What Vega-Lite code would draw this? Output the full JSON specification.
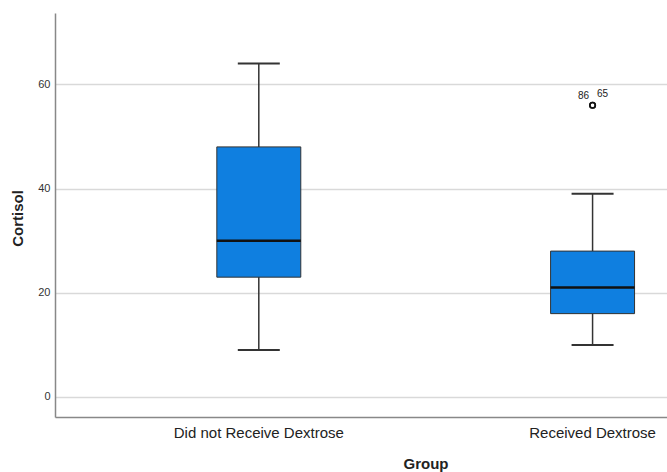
{
  "$schema": "https://vega.github.io/schema/vega-lite/v6.json",
  "width": 612,
  "height": 404,
  "autosize": {"type": "none"},
  "padding": {"left": 55, "top": 13, "right": 0, "bottom": 55},
  "background": "white",
  "config": {
    "view": {"stroke": null},
    "font": "Liberation Sans"
  },
  "datasets": {
    "stats": [
      {"group": "Did not Receive Dextrose", "lower": 9, "q1": 23, "median": 30, "q3": 48, "upper": 64},
      {"group": "Received Dextrose", "lower": 10, "q1": 16, "median": 21, "q3": 28, "upper": 39}
    ],
    "outliers": [
      {"group": "Received Dextrose", "case": "86", "cortisol": 56},
      {"group": "Received Dextrose", "case": "65", "cortisol": 56}
    ]
  },
  "encoding": {
    "x": {
      "field": "group",
      "type": "nominal",
      "sort": null,
      "scale": {"paddingInner": 0.7484, "paddingOuter": 0.291, "align": 0.833},
      "axis": {
        "title": "Group",
        "titleFont": "Liberation Sans",
        "titleFontSize": 15,
        "titleFontWeight": "bold",
        "titleColor": "#222",
        "titleX": 370.5,
        "titleY": 46,
        "titleBaseline": "middle",
        "titleAlign": "center",
        "labelAngle": 0,
        "labelFontSize": 15,
        "labelColor": "#222",
        "labelPadding": 8,
        "ticks": false,
        "domainColor": "#888",
        "domainWidth": 1.5
      }
    }
  },
  "layer": [
    {
      "data": {"name": "stats"},
      "mark": {"type": "rule", "color": "#333", "strokeWidth": 1.5},
      "encoding": {
        "y": {
          "field": "lower",
          "type": "quantitative",
          "scale": {"domain": [-3.84, 73.7], "nice": false, "zero": false},
          "axis": {
            "title": "Cortisol",
            "titleFont": "Liberation Sans",
            "titleFontSize": 15,
            "titleFontWeight": "bold",
            "titleColor": "#222",
            "titleAngle": -90,
            "titleX": -38,
            "titleY": 205,
            "titleAlign": "center",
            "titleBaseline": "middle",
            "values": [0, 20, 40, 60],
            "grid": true,
            "gridColor": "#d9d9d9",
            "gridWidth": 1.5,
            "ticks": false,
            "labelFontSize": 11,
            "labelColor": "#333",
            "labelPadding": 5,
            "domainColor": "#888",
            "domainWidth": 1.5
          }
        },
        "y2": {"field": "upper"}
      }
    },
    {
      "data": {"name": "stats"},
      "mark": {"type": "bar", "color": "#0f7fe0", "stroke": "#333", "strokeWidth": 1},
      "encoding": {
        "y": {"field": "q1", "type": "quantitative"},
        "y2": {"field": "q3"}
      }
    },
    {
      "data": {"name": "stats"},
      "mark": {"type": "tick", "color": "#111", "thickness": 2.5, "size": 84, "opacity": 1},
      "encoding": {"y": {"field": "median", "type": "quantitative"}}
    },
    {
      "data": {"name": "stats"},
      "mark": {"type": "tick", "color": "#333", "thickness": 2, "size": 42, "opacity": 1},
      "encoding": {"y": {"field": "lower", "type": "quantitative"}}
    },
    {
      "data": {"name": "stats"},
      "mark": {"type": "tick", "color": "#333", "thickness": 2, "size": 42, "opacity": 1},
      "encoding": {"y": {"field": "upper", "type": "quantitative"}}
    },
    {
      "data": {"name": "outliers"},
      "mark": {"type": "point", "shape": "circle", "filled": false, "color": "#111", "strokeWidth": 1.6, "size": 30, "opacity": 1},
      "encoding": {"y": {"field": "cortisol", "type": "quantitative"}}
    },
    {
      "data": {"name": "outliers"},
      "transform": [{"filter": "datum.case === '86'"}],
      "mark": {"type": "text", "fontSize": 10, "color": "#222", "dx": -9, "dy": -9, "font": "Liberation Sans"},
      "encoding": {
        "y": {"field": "cortisol", "type": "quantitative"},
        "text": {"field": "case"}
      }
    },
    {
      "data": {"name": "outliers"},
      "transform": [{"filter": "datum.case === '65'"}],
      "mark": {"type": "text", "fontSize": 10, "color": "#222", "dx": 10, "dy": -11, "font": "Liberation Sans"},
      "encoding": {
        "y": {"field": "cortisol", "type": "quantitative"},
        "text": {"field": "case"}
      }
    }
  ]
}
